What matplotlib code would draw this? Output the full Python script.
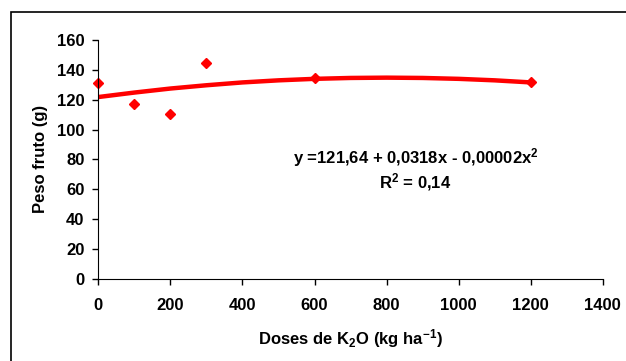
import numpy as np
import matplotlib.pyplot as plt
from matplotlib.patches import Rectangle

plt.rc('font', family='Liberation Sans', weight='bold', size=12)
plt.rcParams['axes.labelweight'] = 'bold'
plt.rcParams['mathtext.fontset'] = 'custom'
plt.rcParams['mathtext.rm'] = 'Liberation Sans:bold'
plt.rcParams['mathtext.default'] = 'rm'

doses = [0, 100, 200, 300, 600, 1200]
peso = [131.4, 117.3, 110.4, 144.6, 134.7, 131.6]

# trend line
curve_x = [0, 100, 200, 300, 400, 500, 600, 700, 800, 900, 1000, 1100, 1200]
curve_y = [121.8, 124.8, 127.5, 129.7, 131.6, 133.0, 134.0, 134.6, 134.8, 134.6, 134.0, 133.0, 131.6]

fig = plt.figure(figsize=(6.26, 3.61), dpi=100)
ax = fig.add_axes([0.157, 0.228, 0.806, 0.661])
ax.plot(curve_x, curve_y, color='#ff0000', lw=3.2, solid_capstyle='round')
ax.plot(doses, peso, 'D', color='#ff0000', ms=5.5, clip_on=False)

ax.set_xlim(0, 1400)
ax.set_ylim(0, 160)
ax.set_xticks(range(0, 1401, 200))
ax.set_yticks(range(0, 161, 20))
ax.spines['top'].set_visible(False)
ax.spines['right'].set_visible(False)
ax.tick_params(direction='out', length=4, width=1, labelsize=12, pad=6)
ax.tick_params(axis='x', pad=10)
ax.set_xlabel('Doses de K$_2$O (kg ha$^{-1}$)', fontsize=12, labelpad=10)
ax.set_ylabel('Peso fruto (g)', fontsize=12, labelpad=6)

ax.text(880, 81, 'y =121,64 + 0,0318x - 0,00002x$^2$', ha='center', va='center', fontsize=12)
ax.text(880, 64.5, 'R$^2$ = 0,14', ha='center', va='center', fontsize=12)

fig.patches.append(Rectangle((11/626, -0.1), 1.2, 1.1 - 12/361, transform=fig.transFigure,
                             fill=False, edgecolor='black', lw=1.2))
fig.savefig('out.png', dpi=100)
